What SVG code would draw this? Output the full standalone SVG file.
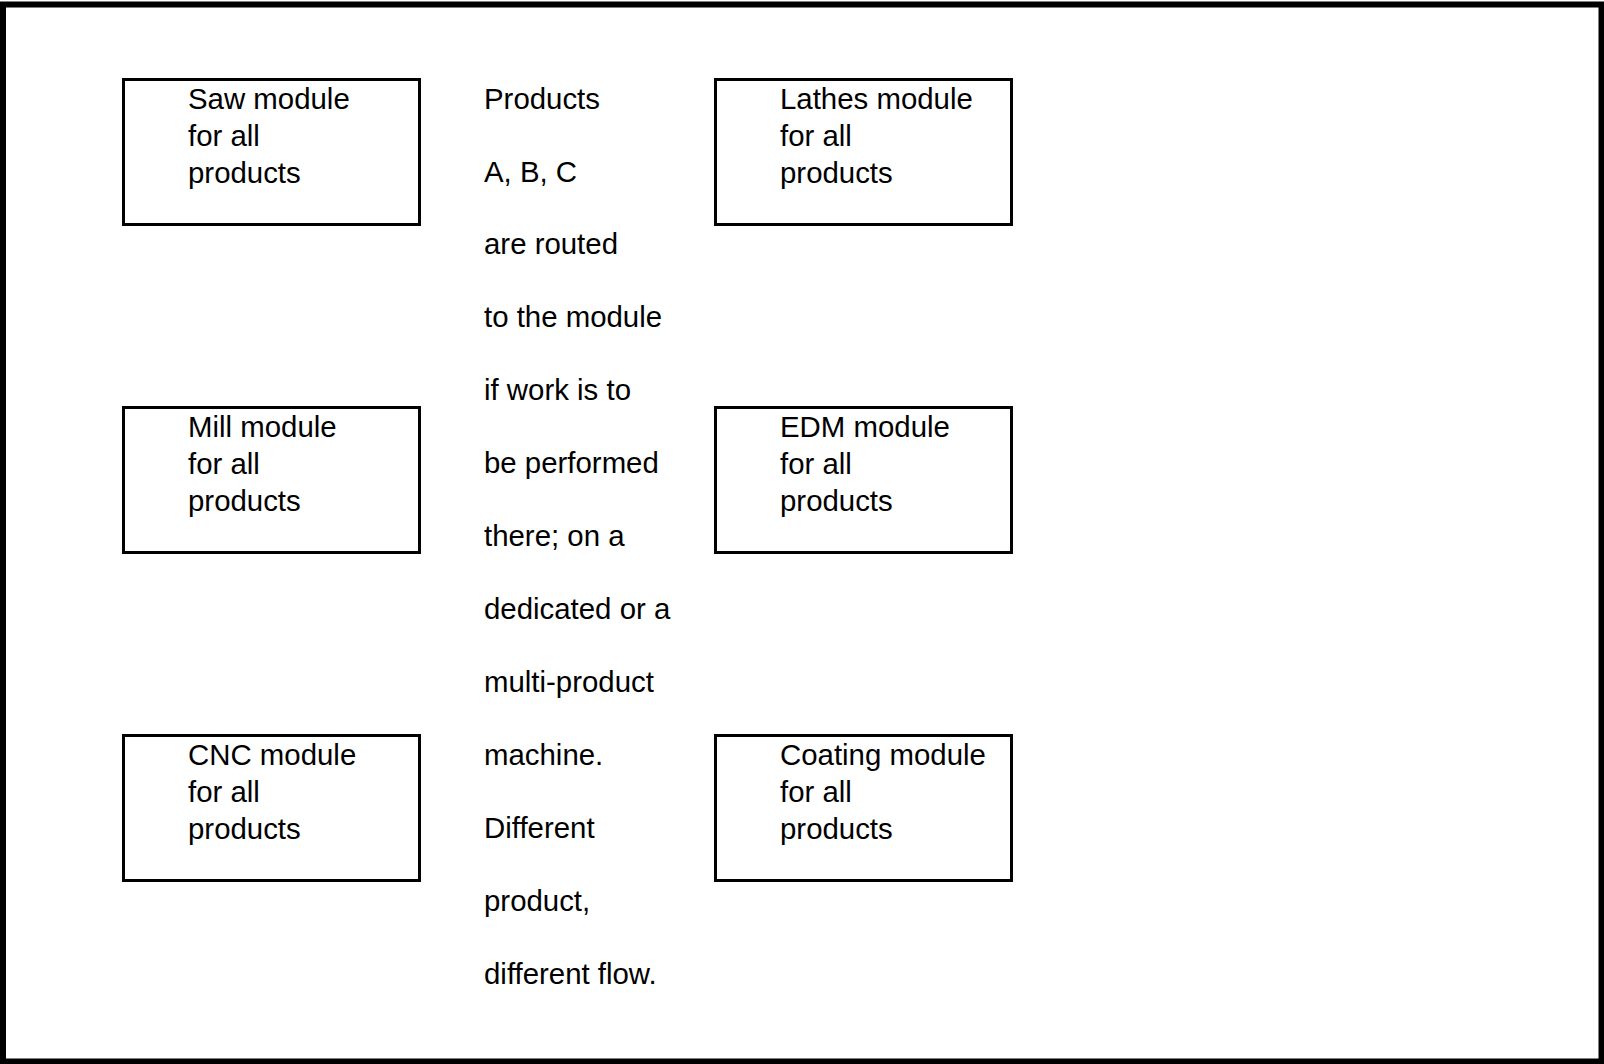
<svg xmlns="http://www.w3.org/2000/svg" width="1604" height="1064" viewBox="0 0 1604 1064">
  <style>
    .frame { fill: #ffffff; stroke: #000000; stroke-width: 6; }
    .box { fill: #ffffff; stroke: #000000; stroke-width: 3; }
    .label { font-family: "Liberation Sans", Arial, sans-serif; font-size: 29.4px; fill: #000000; }
  </style>

  <!-- outer frame -->
  <rect class="frame" x="3" y="4.5" width="1598.5" height="1057"/>

  <!-- module boxes -->
  <g id="saw">
    <rect class="box" x="123.5" y="79.5" width="296" height="145"/>
    <text class="label" x="188" y="109.3">Saw module<tspan x="188" dy="36.6">for all</tspan><tspan x="188" dy="36.6">products</tspan></text>
  </g>

  <g id="lathes">
    <rect class="box" x="715.5" y="79.5" width="296" height="145"/>
    <text class="label" x="780" y="109.3">Lathes module<tspan x="780" dy="36.6">for all</tspan><tspan x="780" dy="36.6">products</tspan></text>
  </g>

  <g id="mill">
    <rect class="box" x="123.5" y="407.5" width="296" height="145"/>
    <text class="label" x="188" y="437.3">Mill module<tspan x="188" dy="36.6">for all</tspan><tspan x="188" dy="36.6">products</tspan></text>
  </g>

  <g id="edm">
    <rect class="box" x="715.5" y="407.5" width="296" height="145"/>
    <text class="label" x="780" y="437.3">EDM module<tspan x="780" dy="36.6">for all</tspan><tspan x="780" dy="36.6">products</tspan></text>
  </g>

  <g id="cnc">
    <rect class="box" x="123.5" y="735.5" width="296" height="145"/>
    <text class="label" x="188" y="765.3">CNC module<tspan x="188" dy="36.6">for all</tspan><tspan x="188" dy="36.6">products</tspan></text>
  </g>

  <g id="coating">
    <rect class="box" x="715.5" y="735.5" width="296" height="145"/>
    <text class="label" x="780" y="765.3">Coating module<tspan x="780" dy="36.6">for all</tspan><tspan x="780" dy="36.6">products</tspan></text>
  </g>

  <!-- routing note in the centre column -->
  <g id="note">
    <text class="label" x="484" y="108.5">Products</text>
    <text class="label" x="484" y="181.5">A, B, C</text>
    <text class="label" x="484" y="254.4">are routed</text>
    <text class="label" x="484" y="327.4">to the module</text>
    <text class="label" x="484" y="400.3">if work is to</text>
    <text class="label" x="484" y="473.3">be performed</text>
    <text class="label" x="484" y="546.2">there; on a</text>
    <text class="label" x="484" y="619.2">dedicated or a</text>
    <text class="label" x="484" y="692.1">multi-product</text>
    <text class="label" x="484" y="765.1">machine.</text>
    <text class="label" x="484" y="838">Different</text>
    <text class="label" x="484" y="911">product,</text>
    <text class="label" x="484" y="984">different flow.</text>
  </g>

  <g id="connectors"/>
</svg>
